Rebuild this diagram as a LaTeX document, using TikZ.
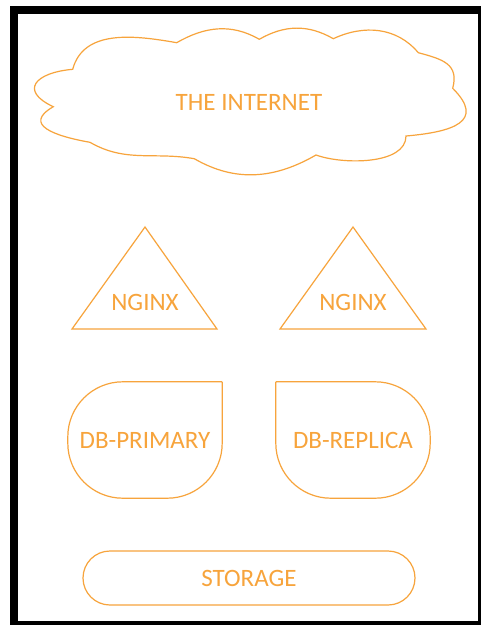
\documentclass[tikz,border=0pt]{standalone}
\usepackage{fontspec}
\setmainfont{Carlito}
\definecolor{lorange}{HTML}{F7A43C}

\begin{document}
\begin{tikzpicture}[
  x=1pt, y=-1pt,
  shp/.style={draw=lorange, line width=1.2pt},
  lbl/.style={text=lorange, font=\fontsize{25}{30}\selectfont, inner sep=0pt},
  blk/.style={lbl, minimum width=#1, minimum height=116pt},
]
\useasboundingbox (0,0) rectangle (481,625);
% Frame
\fill[black] (10,6) rectangle (481,625);
\fill[white] (18,14) rectangle (478,621);

% Cloud
\node[lbl] (net) at (249,102) {THE INTERNET};
\draw[shp] (72.7,69.3) to[out=75,in=170] (176.7,42.7)
  to[out=30,in=150] (259.3,39.3)
  to[out=30,in=150] (333.3,38.7)
  to[out=25,in=130] (418.3,52.7)
  to[out=-15,in=75,looseness=1.3] (452.7,88.3)
  to[out=-45,in=5,looseness=1.8] (406,136)
  to[out=-90,in=-20,looseness=0.8] (316,155)
  to[out=-150,in=-30] (194.3,158.7)
  to[out=170,in=-30] (90,142.3)
  to[out=170,in=210,looseness=1.8] (53.3,106.7)
  to[out=155,in=185,looseness=2.3] cycle;

% Web tier
\node[lbl] (ng1) at (145,302) {NGINX};
\node[lbl] (ng2) at (353,302) {NGINX};
\draw[shp, line join=miter] (145,227) -- (217,329) -- (72,329) -- cycle;
\draw[shp, line join=miter] (353,227) -- (426,329) -- (280,329) -- cycle;

% Database tier
\node[blk=154pt] (dbp) at (145,440) {DB-PRIMARY};
\node[blk=154pt] (dbr) at (353,440) {DB-REPLICA};
\draw[shp, rounded corners=55pt] (dbp.north east) -- (dbp.south east)
  -- (dbp.south west) -- (dbp.north west) -- (dbp.north east);
\draw[shp, rounded corners=55pt] (dbr.north west) -- (dbr.north east)
  -- (dbr.south east) -- (dbr.south west) -- (dbr.north west);

% Storage
\node[lbl, shp, rounded corners=27pt, minimum width=332pt, minimum height=54pt]
  (sto) at (249,578) {STORAGE};
\end{tikzpicture}
\end{document}
